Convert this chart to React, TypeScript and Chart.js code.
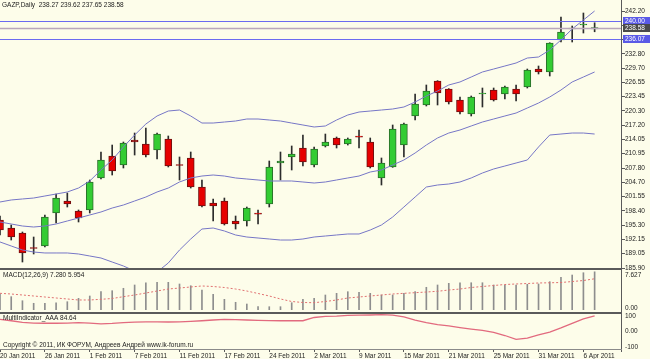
import React, { useEffect, useRef } from "react";
import { Chart, registerables } from "chart.js";

Chart.register(...registerables);

// ---------------- data ----------------
const SYMBOL = "GAZP";
const PERIOD = "Daily";

const DATES = [
  "20 Jan 2011", "21 Jan 2011", "24 Jan 2011", "25 Jan 2011", "26 Jan 2011", "27 Jan 2011", "28 Jan 2011", "31 Jan 2011",
  "1 Feb 2011", "2 Feb 2011", "3 Feb 2011", "4 Feb 2011", "7 Feb 2011", "8 Feb 2011", "9 Feb 2011", "10 Feb 2011",
  "11 Feb 2011", "14 Feb 2011", "15 Feb 2011", "16 Feb 2011", "17 Feb 2011", "18 Feb 2011", "21 Feb 2011", "22 Feb 2011",
  "24 Feb 2011", "25 Feb 2011", "28 Feb 2011", "1 Mar 2011", "2 Mar 2011", "3 Mar 2011", "4 Mar 2011", "5 Mar 2011",
  "9 Mar 2011", "10 Mar 2011", "11 Mar 2011", "14 Mar 2011", "15 Mar 2011", "16 Mar 2011", "17 Mar 2011", "18 Mar 2011",
  "21 Mar 2011", "22 Mar 2011", "23 Mar 2011", "24 Mar 2011", "25 Mar 2011", "28 Mar 2011", "29 Mar 2011", "30 Mar 2011",
  "31 Mar 2011", "1 Apr 2011", "4 Apr 2011", "5 Apr 2011", "6 Apr 2011", "7 Apr 2011",
];
const DATE_LABEL_STEP = 4;

const OPEN = [196.41, 194.66, 193.57, 190.39, 190.72, 197.95, 200.58, 198.39, 198.61, 205.62, 210.43, 208.46, 213.94, 213.06, 211.75, 214.16, 208.46, 210.0, 203.64, 200.14, 200.58, 196.2, 196.2, 197.76, 199.92, 208.9, 210.22, 212.19, 208.46, 212.63, 214.38, 213.06, 214.62, 213.5, 205.62, 208.03, 212.84, 219.2, 221.61, 226.86, 225.11, 222.7, 219.64, 224.02, 224.89, 224.02, 225.11, 225.55, 229.49, 228.84, 235.85, 238.26, 239.13, 238.27];
const HIGH = [197.29, 195.32, 193.79, 192.69, 197.51, 202.11, 202.33, 198.61, 205.18, 211.31, 212.84, 213.5, 215.47, 216.57, 215.47, 214.82, 210.22, 211.31, 205.18, 201.02, 201.23, 197.29, 199.26, 198.61, 209.34, 211.31, 212.63, 215.03, 212.41, 215.25, 214.6, 214.38, 216.13, 214.38, 210.0, 217.23, 217.66, 224.02, 225.99, 226.95, 225.2, 223.36, 223.58, 225.33, 225.33, 225.77, 225.99, 229.49, 230.15, 235.25, 240.88, 238.91, 241.76, 239.62];
const LOW = [193.13, 192.03, 187.21, 188.97, 190.5, 195.76, 199.26, 195.98, 197.95, 205.4, 206.27, 207.81, 210.65, 210.22, 209.78, 208.03, 205.18, 203.42, 199.26, 196.2, 195.32, 194.44, 195.1, 195.54, 199.26, 205.18, 207.37, 208.24, 208.03, 212.41, 212.19, 212.84, 212.19, 207.81, 204.08, 207.95, 210.22, 218.32, 221.39, 221.61, 221.83, 219.64, 219.2, 221.17, 222.48, 222.92, 222.48, 225.33, 228.4, 227.96, 235.41, 235.41, 237.38, 237.65];
const CLOSE = [194.22, 192.69, 189.19, 190.17, 197.07, 201.23, 199.92, 196.85, 204.74, 209.56, 207.15, 213.28, 213.5, 210.65, 215.25, 208.24, 208.35, 203.64, 199.48, 199.48, 195.54, 195.54, 199.04, 197.7, 208.03, 209.34, 210.87, 209.12, 211.97, 213.5, 212.84, 214.16, 214.58, 208.03, 208.9, 216.35, 217.44, 221.83, 224.67, 224.24, 222.26, 220.07, 223.36, 224.24, 222.7, 225.55, 224.02, 229.27, 228.84, 235.19, 237.6, 238.47, 239.35, 238.58];

const BB_UPPER = [200.36, 200.8, 201.02, 201.23, 201.67, 202.11, 202.55, 203.42, 204.96, 207.37, 209.56, 212.41, 215.03, 217.44, 219.2, 220.29, 220.51, 219.2, 217.66, 217.66, 217.88, 218.1, 218.54, 218.54, 218.32, 218.1, 217.66, 217.23, 216.79, 217.01, 218.32, 219.42, 220.07, 220.29, 220.51, 220.73, 221.17, 222.26, 223.58, 224.67, 225.99, 226.65, 227.74, 228.84, 229.49, 230.15, 230.81, 231.9, 232.12, 233.66, 235.85, 238.26, 240.23, 242.2];
const BB_MIDDLE = [195.98, 195.54, 195.1, 194.88, 195.1, 195.54, 196.2, 196.85, 197.51, 198.17, 199.04, 199.7, 200.58, 201.45, 202.55, 203.42, 204.74, 205.62, 206.05, 206.27, 206.05, 205.62, 205.4, 205.18, 204.96, 204.96, 204.96, 204.74, 204.52, 204.74, 205.18, 205.62, 206.05, 206.93, 207.37, 208.46, 209.56, 211.09, 212.84, 214.38, 215.47, 216.13, 217.01, 217.88, 218.54, 219.2, 219.85, 220.95, 222.04, 223.36, 224.89, 226.65, 227.74, 228.84];
const BB_LOWER = [191.6, 190.72, 189.84, 189.4, 189.19, 189.19, 189.19, 188.97, 188.53, 188.09, 187.21, 186.34, 185.24, 184.37, 185.02, 187.0, 189.84, 192.25, 194.44, 194.66, 194.01, 193.13, 192.69, 192.47, 192.25, 192.03, 192.03, 192.25, 192.69, 192.91, 193.13, 193.35, 193.35, 194.22, 195.32, 197.07, 199.26, 201.45, 203.64, 204.08, 204.3, 204.74, 205.62, 206.71, 207.59, 208.24, 208.9, 209.56, 212.41, 215.03, 215.25, 215.47, 215.47, 215.25];

const PRICE_TICKS = [185.9, 189.05, 192.15, 195.3, 198.4, 201.55, 204.7, 207.8, 210.95, 214.05, 217.2, 220.3, 223.45, 226.55, 229.7, 232.8, 235.95, 239.05, 242.2];
const PRICE_MIN = 185.9;
const PRICE_MAX = 244.61;
const H_LINES = [240.0, 236.07];

const MACD_PARAMS = [12, 26, 9];
const MACD_HIST = [3.0, 2.54, 1.77, 1.28, 1.28, 1.39, 1.58, 2.23, 2.67, 3.49, 3.68, 4.14, 4.77, 5.2, 5.28, 5.28, 4.96, 4.63, 3.81, 2.99, 2.04, 1.47, 1.14, 0.63, 0.63, 0.63, 1.39, 2.04, 2.23, 2.86, 3.18, 3.49, 3.37, 3.18, 2.86, 2.86, 3.18, 3.49, 4.33, 4.77, 5.09, 5.2, 5.2, 5.2, 4.77, 4.77, 4.77, 4.9, 4.96, 5.4, 6.23, 6.67, 7.11, 7.28];
const MACD_SIGNAL = [3.18, 3.05, 2.86, 2.67, 2.48, 2.29, 2.1, 1.91, 1.91, 2.04, 2.19, 2.54, 2.86, 3.24, 3.62, 4.0, 4.19, 4.39, 4.58, 4.48, 4.29, 4.0, 3.62, 3.15, 2.67, 2.1, 1.62, 1.43, 1.39, 1.62, 1.91, 2.29, 2.48, 2.67, 2.86, 3.05, 3.18, 3.3, 3.43, 3.57, 3.81, 4.0, 4.29, 4.48, 4.67, 4.86, 4.96, 5.05, 5.15, 5.19, 5.24, 5.43, 5.62, 5.954];
const MACD_MAX = 7.627;
const MACD_AXIS = [7.627, 0];
const MACD_AXIS_TEXT = ["7.627", "0.00"];

const MULTI_NAME = "MultiIndicator_AAA";
const MULTI = [65, 57, 48, 44, 43, 43, 44, 46, 44, 40, 42, 46, 49, 51, 51, 50, 51, 54, 57, 61, 65, 63, 61, 59, 58, 57, 57, 57, 75, 81, 83, 87, 88, 89, 91, 88, 78, 61, 47, 36, 28, 19, 11, 3, -8, -25, -47, -39, -22, -6, 17, 42, 67, 84.64];
const MULTI_AXIS = [100, 0, -100];
const MULTI_AXIS_TEXT = ["100", "0.00", "-100"];
const COPYRIGHT = "Copyright © 2011, ИК ФОРУМ, Андреев Андрей www.ik-forum.ru";

// ---------------- styling ----------------
const BG = "#fdfdea";
const TEXT = "#1c1c1c";
const FONT = "'Liberation Sans', Arial, sans-serif";
const FS = 6.5;
const AXIS_W = 28;
const X_MAX = 55.44;
const FRAME = "#5a5a5a";
const BAND = "#7676c6";
const UP = "#33cc33";
const DOWN = "#e60000";

Chart.defaults.font.family = FONT;
Chart.defaults.font.size = FS;
Chart.defaults.color = TEXT;

const overlay = {
  id: "overlay",
  afterDraw(chart: any, _a: any, opts: any) {
    const ctx = chart.ctx;
    const ca = chart.chartArea;
    const ys = chart.scales.y;
    ctx.save();
    ctx.font = `${FS}px ${FONT}`;
    ctx.textBaseline = "middle";
    ctx.textAlign = "left";
    const levels = opts.levels || [];
    levels.forEach((lv: any) => {
      const py = Math.round(ys.getPixelForValue(lv.value)) + 0.5;
      ctx.strokeStyle = lv.line;
      ctx.lineWidth = lv.width;
      ctx.beginPath();
      ctx.moveTo(ca.left, py);
      ctx.lineTo(ca.right, py);
      ctx.stroke();
    });
    levels.forEach((lv: any) => {
      const py = ys.getPixelForValue(lv.value);
      ctx.fillStyle = lv.box;
      ctx.fillRect(ca.right + 1, Math.round(py - 4), chart.width - ca.right - 1, 8);
      ctx.fillStyle = "#ffffff";
      ctx.fillText(lv.value.toFixed(2), ca.right + 3, py + 0.5);
    });
    (opts.axisLabels || []).forEach((al: any) => {
      ctx.fillStyle = TEXT;
      ctx.fillText(al.text, ca.right + 3, ys.getPixelForValue(al.value) + al.dy);
    });
    (opts.rules || []).forEach((r: any) => {
      ctx.fillStyle = r[4];
      ctx.fillRect(r[0], r[1], r[2], r[3]);
    });
    (opts.texts || []).forEach((t: any) => {
      ctx.fillStyle = TEXT;
      ctx.fillText(t.text, t.x, t.y);
    });
    ctx.restore();
  },
};

const fitRight = (s: any) => {
  s.width = AXIS_W;
  s.paddingTop = 0;
  s.paddingBottom = 0;
};

const hiddenX = { type: "linear", min: 0, max: X_MAX, offset: false, display: false };

const series = (arr: number[]) => arr.map((v, i) => ({ x: i, y: v }));

function mainConfig(): any {
  const idx = DATES.map((_, i) => i);
  const up = idx.map((i) => CLOSE[i] >= OPEN[i]);
  const last = DATES.length - 1;
  const title = `${SYMBOL},${PERIOD}  ${OPEN[last].toFixed(2)} ${HIGH[last].toFixed(2)} ${LOW[last].toFixed(2)} ${CLOSE[last].toFixed(2)}`;
  const bandDs = (arr: number[]) => ({
    type: "line",
    data: series(arr),
    borderColor: BAND,
    borderWidth: 1,
    pointRadius: 0,
    tension: 0,
    order: -1,
  });
  return {
    type: "bar",
    data: {
      datasets: [
        bandDs(BB_UPPER),
        bandDs(BB_MIDDLE),
        bandDs(BB_LOWER),
        {
          type: "bar",
          data: idx.map((i) => ({ x: i, y: [Math.min(OPEN[i], CLOSE[i]), Math.max(OPEN[i], CLOSE[i])] })),
          backgroundColor: up.map((u) => (u ? UP : DOWN)),
          borderColor: up.map((u) => (u ? "#2a6e2a" : "#6e1010")),
          borderWidth: 1,
          borderSkipped: false,
          barThickness: 7,
          minBarLength: 1,
          grouped: false,
          order: 0,
        },
        {
          type: "bar",
          data: idx.map((i) => ({ x: i, y: [LOW[i], HIGH[i]] })),
          backgroundColor: "#2c2c2c",
          barThickness: 1,
          grouped: false,
          order: 1,
        },
      ],
    },
    options: {
      responsive: false,
      animation: false,
      events: [],
      layout: { padding: { top: 0, bottom: 8, left: 0, right: 0 } },
      plugins: {
        legend: { display: false },
        tooltip: { enabled: false },
        overlay: {
          levels: [
            { value: H_LINES[0], line: "#6b6bf0", width: 1, box: "#5a5ae6" },
            { value: H_LINES[1], line: "#6b6bf0", width: 1, box: "#5a5ae6" },
            { value: CLOSE[last], line: "#b9a6bc", width: 1.5, box: "#4a4a4a" },
          ],
          rules: [[621, 0, 1, 268, FRAME]],
          texts: [{ text: title, x: 2, y: 5 }],
        },
      },
      scales: {
        x: hiddenX,
        y: {
          position: "right",
          min: PRICE_MIN,
          max: PRICE_MAX,
          afterBuildTicks: (s: any) => {
            s.ticks = PRICE_TICKS.map((v) => ({ value: v }));
          },
          afterFit: fitRight,
          ticks: {
            autoSkip: false,
            padding: 0,
            color: TEXT,
            font: { size: FS, family: FONT },
            callback: (v: number) => Number(v).toFixed(2),
          },
          grid: { drawOnChartArea: false, drawTicks: true, tickLength: 3, color: FRAME },
          border: { display: false },
        },
      },
    },
    plugins: [overlay],
  };
}

function macdConfig(): any {
  const last = MACD_HIST.length - 1;
  return {
    type: "bar",
    data: {
      datasets: [
        {
          type: "line",
          data: series(MACD_SIGNAL),
          borderColor: "#e07070",
          borderWidth: 1,
          borderDash: [2, 2],
          pointRadius: 0,
          order: -1,
        },
        {
          type: "bar",
          data: series(MACD_HIST),
          backgroundColor: "#8e8e8e",
          barThickness: 1,
          grouped: false,
        },
      ],
    },
    options: {
      responsive: false,
      animation: false,
      events: [],
      layout: { padding: { top: 2, bottom: 2, left: 0, right: 0 } },
      plugins: {
        legend: { display: false },
        tooltip: { enabled: false },
        overlay: {
          axisLabels: [
            { value: MACD_AXIS[0], text: MACD_AXIS_TEXT[0], dy: 5 },
            { value: MACD_AXIS[1], text: MACD_AXIS_TEXT[1], dy: -2 },
          ],
          rules: [
            [0, 0, 622, 2, FRAME],
            [621, 0, 1, 44, FRAME],
          ],
          texts: [
            {
              text: `MACD(${MACD_PARAMS.join(",")}) ${MACD_HIST[last].toFixed(3)} ${MACD_SIGNAL[last].toFixed(3)}`,
              x: 3,
              y: 7.5,
            },
          ],
        },
      },
      scales: {
        x: hiddenX,
        y: {
          position: "right",
          min: 0,
          max: MACD_MAX,
          afterFit: fitRight,
          ticks: { display: false },
          grid: { display: false },
          border: { display: false },
        },
      },
    },
    plugins: [overlay],
  };
}

function multiConfig(): any {
  const last = MULTI.length - 1;
  return {
    type: "line",
    data: {
      datasets: [
        {
          data: series(MULTI),
          borderColor: "#e26a7e",
          borderWidth: 1.3,
          pointRadius: 0,
        },
      ],
    },
    options: {
      responsive: false,
      animation: false,
      events: [],
      layout: { padding: { top: 1, bottom: 0, left: 0, right: 0 } },
      plugins: {
        legend: { display: false },
        tooltip: { enabled: false },
        overlay: {
          axisLabels: MULTI_AXIS.map((v, i) => ({ value: v, text: MULTI_AXIS_TEXT[i], dy: i === 0 ? 3 : i === 2 ? -2 : 0 })),
          rules: [
            [0, 0, 622, 2, FRAME],
            [621, 0, 1, 40, FRAME],
            [0, 37, 622, 1, "#8a8a8a"],
          ],
          texts: [
            { text: `${MULTI_NAME} ${MULTI[last].toFixed(2)}`, x: 3, y: 6.5 },
            { text: COPYRIGHT, x: 3, y: 33 },
          ],
        },
      },
      scales: {
        x: {
          type: "linear",
          min: 0,
          max: X_MAX,
          offset: false,
          position: "bottom",
          afterBuildTicks: (s: any) => {
            const t: any[] = [];
            for (let i = 0; i < DATES.length; i += DATE_LABEL_STEP) t.push({ value: i });
            s.ticks = t;
          },
          afterFit: (s: any) => {
            s.height = 10;
            s.paddingLeft = 0;
            s.paddingRight = 0;
          },
          ticks: {
            autoSkip: false,
            maxRotation: 0,
            minRotation: 0,
            align: "start",
            padding: 0,
            color: TEXT,
            font: { size: FS, family: FONT },
            callback: (v: number) => DATES[Math.round(v)] || "",
          },
          grid: { drawOnChartArea: false, drawTicks: true, tickLength: 3, color: FRAME },
          border: { display: false },
        },
        y: {
          position: "right",
          min: -100,
          max: 100,
          afterFit: fitRight,
          ticks: { display: false },
          grid: { display: false },
          border: { display: false },
        },
      },
    },
    plugins: [overlay],
  };
}

export default function App() {
  const mainRef = useRef<HTMLCanvasElement>(null);
  const macdRef = useRef<HTMLCanvasElement>(null);
  const multiRef = useRef<HTMLCanvasElement>(null);

  useEffect(() => {
    document.body.style.margin = "0";
    const charts = [
      new Chart(mainRef.current as HTMLCanvasElement, mainConfig()),
      new Chart(macdRef.current as HTMLCanvasElement, macdConfig()),
      new Chart(multiRef.current as HTMLCanvasElement, multiConfig()),
    ];
    return () => charts.forEach((c) => c.destroy());
  }, []);

  return (
    <div style={{ position: "relative", width: 650, height: 359, background: BG, overflow: "hidden" }}>
      <canvas ref={mainRef} width={650} height={276} style={{ position: "absolute", left: 0, top: 0 }} />
      <canvas ref={macdRef} width={650} height={44} style={{ position: "absolute", left: 0, top: 268 }} />
      <canvas ref={multiRef} width={650} height={47} style={{ position: "absolute", left: 0, top: 312 }} />
    </div>
  );
}
